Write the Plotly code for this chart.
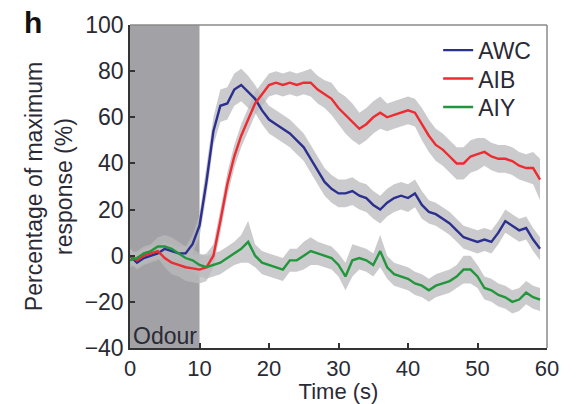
import plotly.graph_objects as go

# Time axis (s)
time_s = list(range(60))

# Mean responses (% of maximum)
awc = [0, -3, -1, 0, 1, 3, 2, 1, 1, 5, 13, 32, 54, 65, 66, 72, 74, 71, 68, 63,
       59, 57, 55, 53, 50, 47, 42, 37, 32, 29, 27, 27, 28, 26, 25, 22, 20, 23, 25, 26,
       25, 27, 22, 19, 18, 16, 14, 11, 8, 7, 6, 7, 6, 10, 15, 13, 11, 12, 7, 3]
aib = [0, -2, 0, 1, 2, -1, -3, -4, -5, -5.5, -6, -5, 0, 15, 31, 43, 52, 59, 66, 70,
       74, 75, 74, 75, 74, 75, 75, 72, 70, 68, 64, 61, 58, 55, 57, 60, 62, 60, 61, 62,
       63, 62, 57, 52, 48, 46, 43, 40, 40, 43, 44, 45, 43, 42, 42, 41, 39, 38, 38, 33]
aiy = [-2, -1, 1, 2, 4, 4, 3, 1, -1, -2, -4, -5, -4, -3, -1, 1, 3, 6, 0, -3,
       -4, -5, -6, -2, -2, 0, 2, 1, 0, -1, -4, -9, -2, -1, -2, -4, 2, -5, -8, -9,
       -10, -12, -13, -15, -13, -12, -11, -9, -6, -6, -9, -14, -15, -17, -18, -20, -19, -16, -18, -19]

# s.e.m. half-widths
awc_err = [3, 3, 3, 3, 3, 3, 3, 3, 3, 4, 5, 6, 6, 7, 7, 7, 7, 7, 6, 6,
           6, 6, 6, 6, 6, 6, 6, 6, 6, 6, 6, 6, 6, 6, 6, 6, 6, 6, 6, 6,
           6, 6, 6, 5, 5, 5, 5, 5, 5, 5, 5, 5, 5, 5, 5, 5, 5, 5, 5, 5]
aib_err = [3, 3, 3, 3, 3, 4, 5, 5, 6, 6, 6, 6, 5, 5, 5, 5, 5, 5, 5, 5,
           5, 5, 5, 5, 5, 5, 6, 6, 6, 7, 7, 8, 8, 7, 7, 7, 7, 6, 6, 6,
           6, 6, 7, 7, 7, 7, 7, 7, 7, 7, 7, 6, 6, 6, 6, 6, 6, 6, 7, 9]
aiy_err = [3, 3, 3, 3, 4, 5, 5, 5, 5, 5, 5, 5, 5, 5, 5, 5, 6, 9, 5, 5,
           5, 5, 5, 5, 5, 6, 6, 5, 5, 5, 5, 6, 7, 5, 5, 5, 7, 5, 5, 5,
           5, 5, 5, 5, 5, 5, 5, 5, 6, 6, 5, 5, 5, 5, 5, 5, 5, 5, 5, 5]

series = [
    ("AWC", awc, awc_err, "#2b2f8e"),
    ("AIB", aib, aib_err, "#ee2b30"),
    ("AIY", aiy, aiy_err, "#22963c"),
]

band_color = "rgba(185,185,188,0.75)"
font_family = "Liberation Sans, Arial, sans-serif"
text_color = "#2a2a35"

fig = go.Figure()

# Shaded s.e.m. bands
for name, mean, err, _ in series:
    upper = [m + e for m, e in zip(mean, err)]
    lower = [m - e for m, e in zip(mean, err)]
    fig.add_trace(go.Scatter(x=time_s, y=upper, mode="lines", line=dict(width=0),
                             showlegend=False, hoverinfo="skip"))
    fig.add_trace(go.Scatter(x=time_s, y=lower, mode="lines", line=dict(width=0),
                             fill="tonexty", fillcolor=band_color,
                             showlegend=False, hoverinfo="skip"))

# Mean traces, each with its own legend row for tighter spacing
legend_ids = ["legend", "legend2", "legend3"]
legend_rows = [0.922, 0.834, 0.746]
for (name, mean, err, color), lid in zip(series, legend_ids):
    fig.add_trace(go.Scatter(x=time_s, y=mean, mode="lines", name=name,
                             legend=lid, line=dict(color=color, width=2.4)))

# Odour stimulation period
fig.add_shape(type="rect", xref="x", yref="y", x0=0, x1=10, y0=-40, y1=100,
              fillcolor="#a2a2a6", line=dict(width=0), layer="below")

# Grey top/right frame
fig.add_shape(type="line", xref="paper", yref="paper", x0=0, x1=1, y0=1, y1=1,
              line=dict(color="#8a8a8a", width=1.5))
fig.add_shape(type="line", xref="paper", yref="paper", x0=1, x1=1, y0=0, y1=1,
              line=dict(color="#8a8a8a", width=1.5))

fig.add_annotation(x=0.2, y=-40, xref="x", yref="y", text="Odour", showarrow=False,
                   xanchor="left", yanchor="bottom", yshift=-3,
                   font=dict(family=font_family, size=23, color=text_color))
fig.add_annotation(x=-0.258, y=1.065, xref="paper", yref="paper", text="<b>h</b>",
                   showarrow=False, xanchor="left", yanchor="top",
                   font=dict(family=font_family, size=30, color="#111"))

fig.update_xaxes(range=[0, 60], tickvals=[0, 10, 20, 30, 40, 50, 60],
                 ticks="inside", ticklen=5, tickwidth=1.5, tickcolor="#333",
                 showline=True, linecolor="#333", linewidth=1.5,
                 showgrid=False, zeroline=False, automargin=False,
                 tickfont=dict(family=font_family, size=22, color=text_color),
                 title=dict(text="Time (s)", standoff=3,
                            font=dict(family=font_family, size=22, color=text_color)))
fig.update_yaxes(range=[-40, 100], tickvals=[-40, -20, 0, 20, 40, 60, 80, 100],
                 ticktext=["\u221240", "\u221220", "0", "20", "40", "60", "80", "100"],
                 ticks="inside", ticklen=5, tickwidth=1.5, tickcolor="#333",
                 showline=True, linecolor="#333", linewidth=1.5,
                 showgrid=False, zeroline=False, automargin=False,
                 tickfont=dict(family=font_family, size=23, color=text_color),
                 title=dict(text="Percentage of maximum<br>response (%)", standoff=6,
                            font=dict(family=font_family, size=23, color=text_color)))

legend_style = dict(x=0.739, xanchor="left", yanchor="middle",
                    bgcolor="rgba(0,0,0,0)", itemwidth=30,
                    font=dict(family=font_family, size=23, color=text_color))

fig.update_layout(
    width=577, height=404,
    margin=dict(l=130, r=30, t=25, b=56),
    plot_bgcolor="white", paper_bgcolor="white",
    showlegend=True,
    legend=dict(y=legend_rows[0], **legend_style),
    legend2=dict(y=legend_rows[1], **legend_style),
    legend3=dict(y=legend_rows[2], **legend_style),
)

fig.write_html("out.html")
